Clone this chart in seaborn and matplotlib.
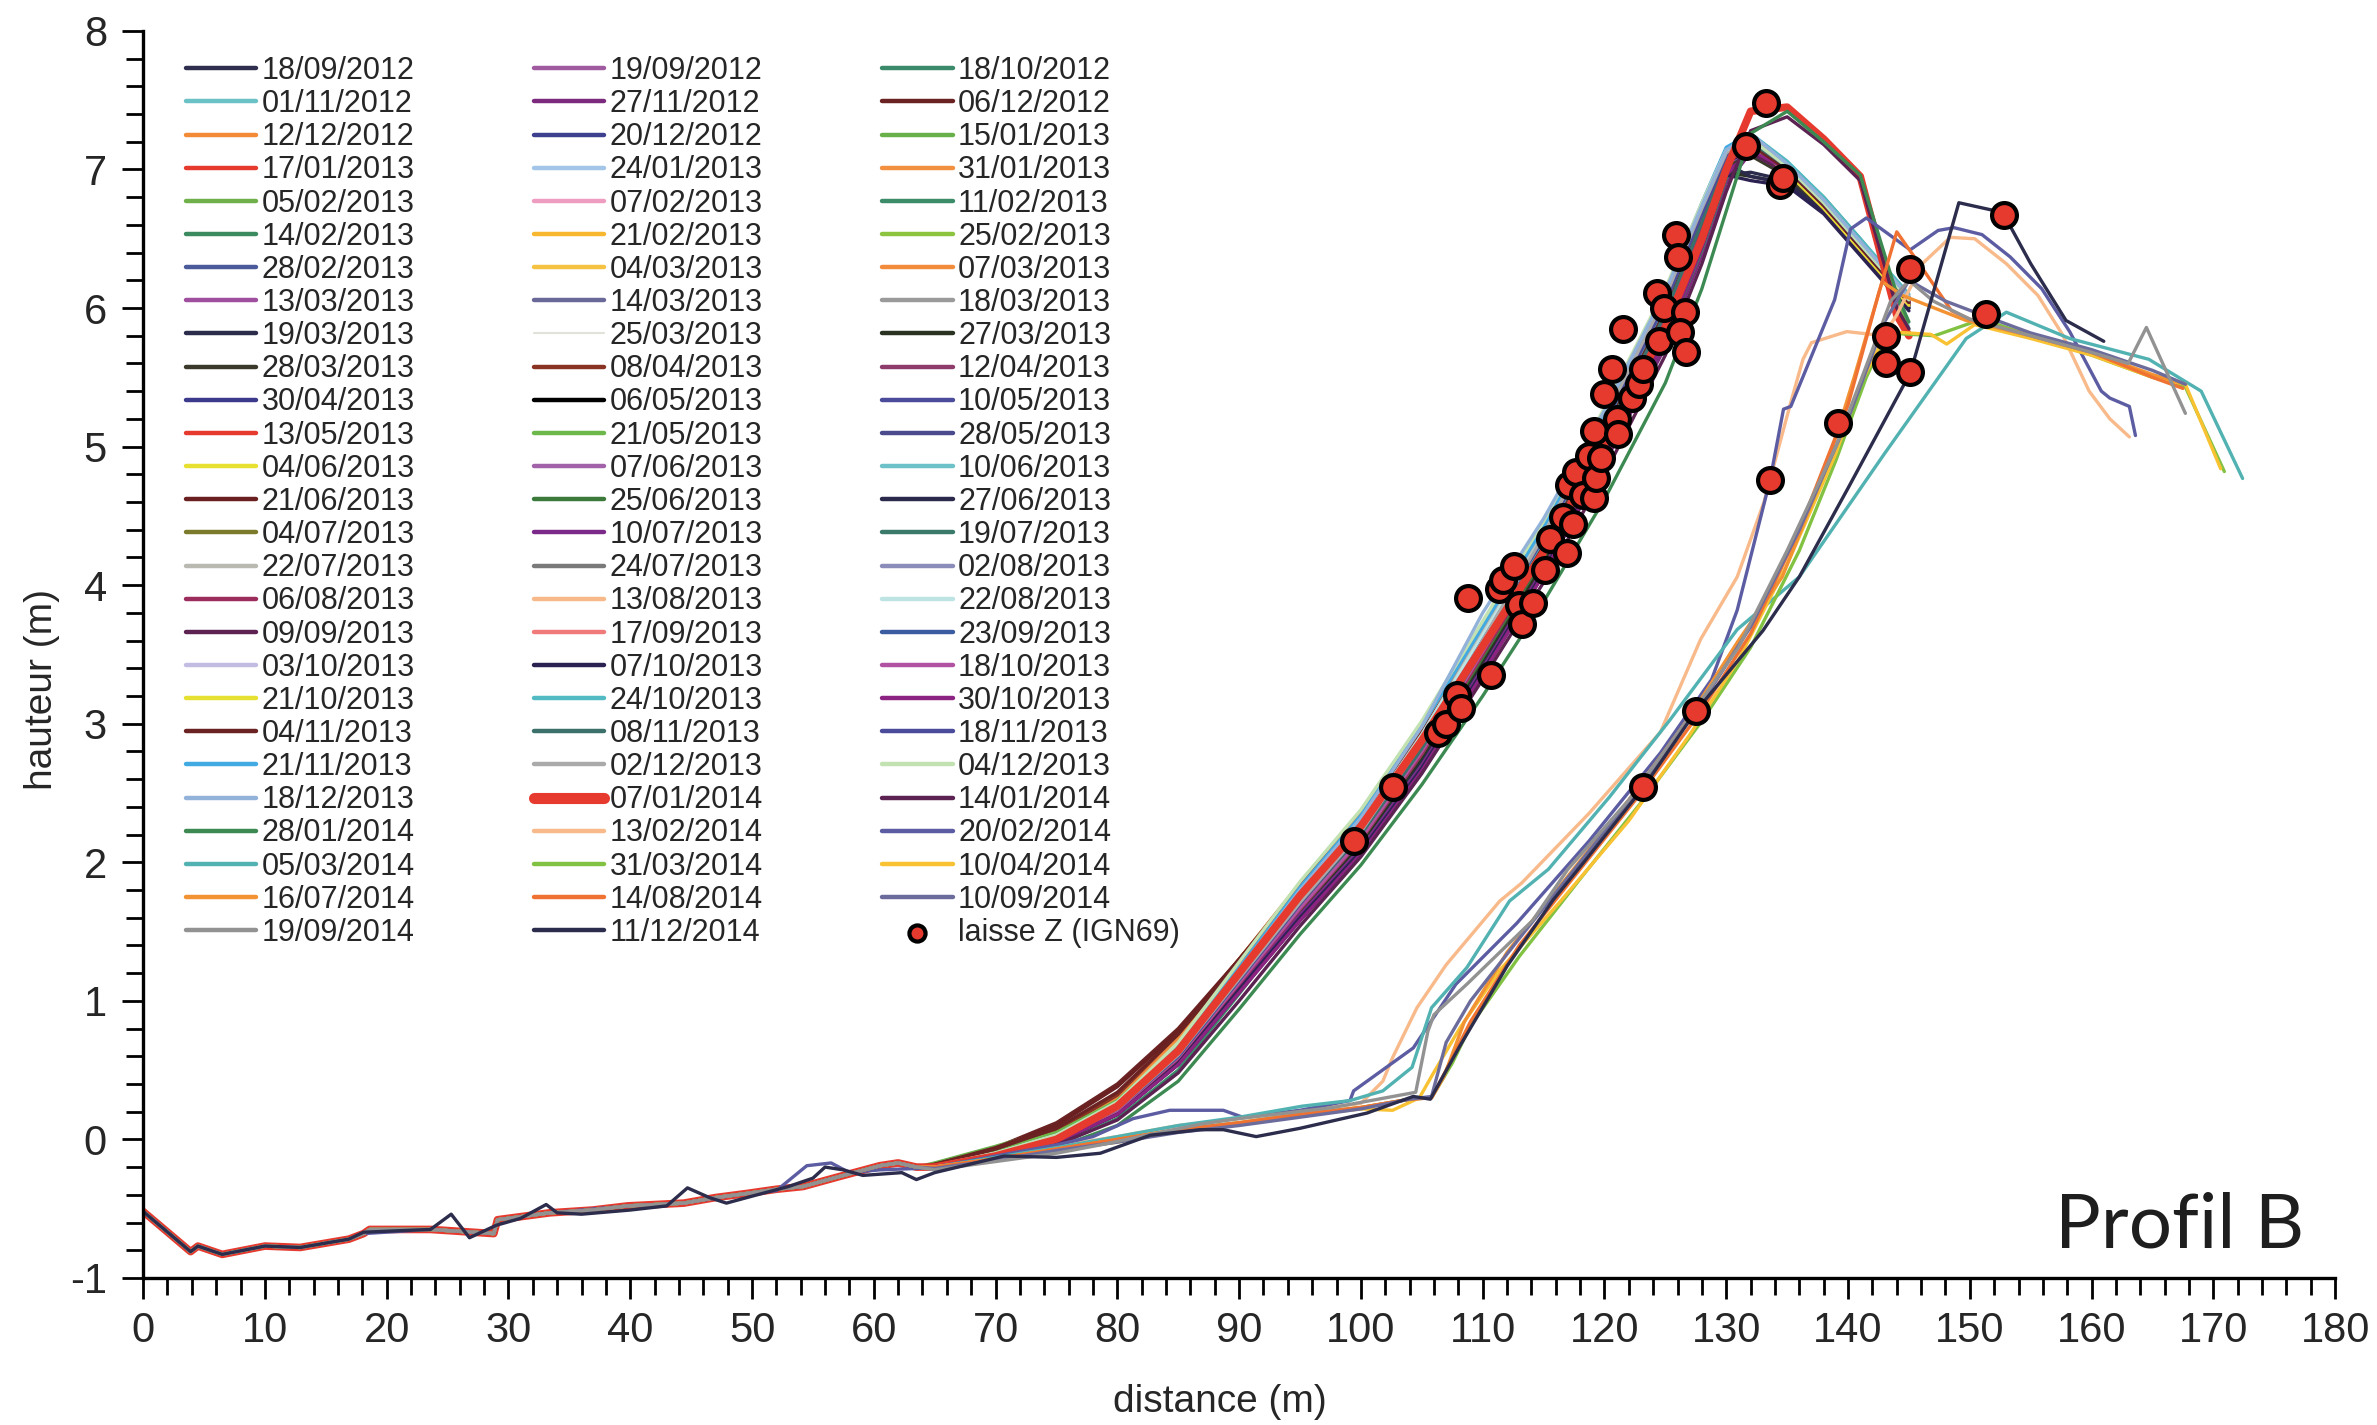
import matplotlib
matplotlib.use("Agg")
import matplotlib.pyplot as plt
import seaborn as sns
from matplotlib.lines import Line2D
from matplotlib.ticker import MultipleLocator

# dates des levés, ordre chronologique
DATES = [
    "18/09/2012", "19/09/2012", "18/10/2012", "01/11/2012", "27/11/2012", "06/12/2012",
    "12/12/2012", "20/12/2012", "15/01/2013", "17/01/2013", "24/01/2013", "31/01/2013",
    "05/02/2013", "07/02/2013", "11/02/2013", "14/02/2013", "21/02/2013", "25/02/2013",
    "28/02/2013", "04/03/2013", "07/03/2013", "13/03/2013", "14/03/2013", "18/03/2013",
    "19/03/2013", "25/03/2013", "27/03/2013", "28/03/2013", "08/04/2013", "12/04/2013",
    "30/04/2013", "06/05/2013", "10/05/2013", "13/05/2013", "21/05/2013", "28/05/2013",
    "04/06/2013", "07/06/2013", "10/06/2013", "21/06/2013", "25/06/2013", "27/06/2013",
    "04/07/2013", "10/07/2013", "19/07/2013", "22/07/2013", "24/07/2013", "02/08/2013",
    "06/08/2013", "13/08/2013", "22/08/2013", "09/09/2013", "17/09/2013", "23/09/2013",
    "03/10/2013", "07/10/2013", "18/10/2013", "21/10/2013", "24/10/2013", "30/10/2013",
    "04/11/2013", "08/11/2013", "18/11/2013", "21/11/2013", "02/12/2013", "04/12/2013",
    "18/12/2013", "07/01/2014", "14/01/2014", "28/01/2014", "13/02/2014", "20/02/2014",
    "05/03/2014", "31/03/2014", "10/04/2014", "16/07/2014", "14/08/2014", "10/09/2014",
    "19/09/2014", "11/12/2014",
]

COLORS = [
    "#2f2e4f", "#a05aa0", "#3b8a6c", "#6bc2c6", "#7b2a7e", "#6a2222",
    "#f28a36", "#3d3f8f", "#68b04a", "#e63a2e", "#a3c6e8", "#f29040",
    "#70b04a", "#ee9cc0", "#3c8c6a", "#3b8a60", "#f8b72e", "#8cc43f",
    "#4b5a9a", "#f5c242", "#f28c3c", "#a04f9f", "#6a6898", "#9a9a9a",
    "#2b2b4b", "#e2e2d8", "#2a3222", "#3b3a2a", "#8b3323", "#8d3c6c",
    "#3c3a8c", "#000000", "#4b4b9b", "#e63a2e", "#6cb84a", "#4a4a8c",
    "#e8e030", "#a262aa", "#6cc2c8", "#6a2020", "#3b7a3b", "#2b2a4c",
    "#7b7b2b", "#7b2a8a", "#3b7a6b", "#b9b9b2", "#7a7a7a", "#8c8cba",
    "#9b2c5c", "#f8b98a", "#bde3e3", "#5b2252", "#f07a7a", "#3c5ca2",
    "#c3bce2", "#2c2252", "#b252a2", "#e6e032", "#52bac2", "#8c2282",
    "#6b2222", "#3c706a", "#4b4b9b", "#42aae2", "#aaaaaa", "#c2e2b2",
    "#92b2da", "#e63a2e", "#5b2252", "#3c8a52", "#f8ba8a", "#5c5ca2",
    "#52b2b2", "#82c242", "#f8c232", "#f29232", "#f07232", "#6c6c9c",
    "#929292", "#2c2c4c",
]

# bas de plage, commun à presque tous les levés
BEACH_X = [0, 3.9, 4.5, 6.5, 10, 12.9, 16.9, 18.1, 18.6, 23.6, 28.8, 29.1, 33.4, 36.9,
           39.8, 44.4, 47, 49.6, 52, 54.2, 57.1, 60.5, 62, 63.5]
BEACH_Y = [-0.52, -0.81, -0.77, -0.83, -0.77, -0.78, -0.72, -0.68, -0.65, -0.65, -0.68, -0.58,
           -0.53, -0.51, -0.48, -0.46, -0.42, -0.39, -0.36, -0.34, -0.27, -0.19, -0.17, -0.20]

NAVY_BEACH_X = [0, 3.9, 4.5, 6.5, 10, 12.9, 16.9, 18.1, 23.6, 25.3, 26.8, 29, 31, 33.1, 34,
                36, 40, 43, 44.7, 46.5, 47.9, 50, 53, 55, 56, 57.5, 59.1, 62.3, 63.5]
NAVY_BEACH_Y = [-0.52, -0.81, -0.77, -0.83, -0.77, -0.78, -0.72, -0.67, -0.65, -0.54, -0.71,
                -0.62, -0.57, -0.47, -0.53, -0.54, -0.51, -0.48, -0.35, -0.42, -0.46, -0.41,
                -0.34, -0.28, -0.20, -0.22, -0.26, -0.24, -0.29]

BLUE_BEACH_X = [0, 3.9, 4.5, 6.5, 10, 12.9, 16.9, 18.1, 23.6, 28.8, 29.1, 33.4, 39.8, 44.4,
                49.6, 52, 54.5, 56.5, 58, 60.5, 63.5]
BLUE_BEACH_Y = [-0.52, -0.81, -0.77, -0.83, -0.77, -0.78, -0.72, -0.68, -0.65, -0.68, -0.58,
                -0.53, -0.48, -0.46, -0.39, -0.37, -0.19, -0.17, -0.24, -0.22, -0.21]

# haut de plage et dune, levés 09/2012 -> 01/2014
DUNE_X_A = [65, 70, 75, 80, 85, 90, 95, 100, 105, 110, 115, 120, 125, 128, 130, 132, 135, 138, 141, 144, 145]
DUNE_Y_A = [
    [-0.20, -0.13, -0.02, 0.18, 0.55, 1.10, 1.65, 2.15, 2.75, 3.45, 4.15, 4.95, 5.80, 6.45, 6.95, 7.15, 7.00, 6.75, 6.45, 6.15, 6.05],
    [-0.20, -0.12, -0.01, 0.20, 0.58, 1.14, 1.70, 2.20, 2.80, 3.50, 4.20, 5.00, 5.85, 6.50, 7.00, 7.18, 7.02, 6.76, 6.46, 6.16, 6.06],
    [-0.21, -0.14, -0.04, 0.15, 0.50, 1.05, 1.62, 2.12, 2.72, 3.40, 4.10, 4.90, 5.75, 6.40, 6.92, 7.20, 7.05, 6.80, 6.50, 6.18, 6.08],
    [-0.19, -0.10, 0.02, 0.25, 0.65, 1.22, 1.78, 2.28, 2.90, 3.62, 4.32, 5.12, 6.00, 6.65, 7.10, 7.25, 7.05, 6.78, 6.48, 6.17, 5.85],
    [-0.20, -0.12, 0.00, 0.20, 0.55, 1.08, 1.62, 2.10, 2.68, 3.38, 4.08, 4.88, 5.72, 6.38, 6.90, 7.12, 6.98, 6.72, 6.42, 6.12, 6.02],
    [-0.18, -0.06, 0.12, 0.40, 0.80, 1.30, 1.82, 2.30, 2.92, 3.62, 4.32, 5.12, 5.98, 6.62, 7.08, 7.22, 7.02, 6.76, 6.46, 6.16, 6.06],
    [-0.19, -0.09, 0.06, 0.32, 0.75, 1.30, 1.85, 2.35, 2.98, 3.70, 4.40, 5.22, 6.10, 6.75, 7.15, 7.22, 7.00, 6.74, 6.44, 6.14, 6.04],
    [-0.20, -0.12, 0.00, 0.22, 0.60, 1.15, 1.70, 2.20, 2.82, 3.52, 4.22, 5.02, 5.88, 6.52, 7.00, 7.15, 6.95, 6.70, 6.40, 6.10, 5.80],
    [-0.17, -0.05, 0.08, 0.30, 0.68, 1.22, 1.76, 2.26, 2.88, 3.58, 4.28, 5.08, 5.94, 6.58, 7.05, 7.18, 6.98, 6.72, 6.42, 6.12, 6.02],
    [-0.20, -0.11, 0.02, 0.25, 0.64, 1.20, 1.75, 2.25, 2.86, 3.56, 4.26, 5.06, 5.92, 6.56, 7.04, 7.20, 7.00, 6.74, 6.44, 6.14, 6.04],
    [-0.19, -0.10, 0.03, 0.27, 0.68, 1.25, 1.80, 2.32, 2.95, 3.68, 4.40, 5.22, 6.10, 6.72, 7.12, 7.24, 7.04, 6.78, 6.48, 6.18, 6.08],
    [-0.19, -0.09, 0.05, 0.30, 0.72, 1.28, 1.84, 2.34, 2.96, 3.68, 4.38, 5.20, 6.08, 6.72, 7.14, 7.22, 7.00, 6.74, 6.44, 6.14, 6.04],
    [-0.18, -0.08, 0.05, 0.28, 0.66, 1.20, 1.74, 2.24, 2.86, 3.56, 4.26, 5.06, 5.92, 6.56, 7.04, 7.18, 6.98, 6.72, 6.42, 6.12, 5.82],
    [-0.20, -0.11, 0.02, 0.26, 0.66, 1.22, 1.76, 2.26, 2.88, 3.58, 4.28, 5.08, 5.95, 6.60, 7.06, 7.20, 7.00, 6.74, 6.44, 6.14, 6.04],
    [-0.20, -0.12, 0.00, 0.22, 0.60, 1.14, 1.68, 2.18, 2.78, 3.48, 4.18, 4.98, 5.84, 6.48, 6.98, 7.16, 7.00, 6.75, 6.45, 6.15, 6.05],
    [-0.20, -0.13, -0.02, 0.18, 0.54, 1.08, 1.62, 2.12, 2.72, 3.42, 4.12, 4.92, 5.78, 6.42, 6.94, 7.14, 7.00, 6.76, 6.46, 6.16, 6.06],
    [-0.19, -0.10, 0.03, 0.27, 0.68, 1.24, 1.80, 2.30, 2.92, 3.64, 4.34, 5.16, 6.02, 6.66, 7.10, 7.22, 7.02, 6.76, 6.46, 6.16, 6.06],
    [-0.18, -0.08, 0.06, 0.30, 0.70, 1.26, 1.80, 2.30, 2.92, 3.62, 4.32, 5.12, 5.98, 6.62, 7.08, 7.20, 7.00, 6.74, 6.44, 6.14, 6.04],
    [-0.20, -0.12, 0.00, 0.22, 0.60, 1.16, 1.70, 2.20, 2.80, 3.50, 4.20, 5.00, 5.86, 6.50, 7.00, 7.16, 6.96, 6.70, 6.40, 6.10, 6.00],
    [-0.19, -0.10, 0.04, 0.28, 0.70, 1.26, 1.82, 2.32, 2.94, 3.66, 4.36, 5.18, 6.04, 6.68, 7.10, 7.20, 7.00, 6.74, 6.44, 6.14, 6.04],
    [-0.19, -0.09, 0.05, 0.30, 0.72, 1.28, 1.84, 2.34, 2.96, 3.68, 4.40, 5.22, 6.08, 6.70, 7.12, 7.22, 7.02, 6.76, 6.46, 6.16, 6.06],
    [-0.20, -0.12, -0.01, 0.20, 0.58, 1.12, 1.66, 2.16, 2.76, 3.46, 4.18, 5.00, 5.88, 6.54, 7.02, 7.18, 7.00, 6.74, 6.44, 6.14, 6.04],
    [-0.20, -0.11, 0.01, 0.24, 0.62, 1.18, 1.72, 2.22, 2.84, 3.56, 4.28, 5.10, 5.98, 6.62, 7.06, 7.20, 7.02, 6.76, 6.46, 6.16, 6.06],
    [-0.20, -0.12, 0.00, 0.22, 0.60, 1.16, 1.70, 2.20, 2.82, 3.52, 4.24, 5.06, 5.94, 6.60, 7.06, 7.22, 7.04, 6.78, 6.48, 6.18, 6.08],
    [-0.21, -0.13, -0.02, 0.19, 0.56, 1.10, 1.64, 2.14, 2.74, 3.44, 4.14, 4.94, 5.80, 6.46, 6.96, 6.98, 6.92, 6.72, 6.42, 6.12, 6.02],
    [-0.20, -0.11, 0.02, 0.25, 0.64, 1.20, 1.75, 2.25, 2.86, 3.58, 4.30, 5.12, 6.00, 6.64, 7.08, 7.20, 7.00, 6.74, 6.44, 6.14, 6.04],
    [-0.21, -0.13, -0.02, 0.19, 0.56, 1.10, 1.64, 2.14, 2.76, 3.46, 4.16, 4.96, 5.82, 6.48, 6.98, 6.95, 6.90, 6.70, 6.40, 6.10, 6.00],
    [-0.20, -0.12, 0.00, 0.21, 0.58, 1.12, 1.66, 2.16, 2.78, 3.48, 4.20, 5.02, 5.90, 6.55, 7.02, 7.10, 6.95, 6.72, 6.42, 6.12, 6.02],
    [-0.19, -0.09, 0.06, 0.32, 0.76, 1.30, 1.84, 2.32, 2.94, 3.64, 4.36, 5.18, 6.06, 6.70, 7.12, 7.22, 7.02, 6.76, 6.46, 6.16, 6.06],
    [-0.20, -0.12, 0.00, 0.22, 0.60, 1.14, 1.68, 2.18, 2.80, 3.50, 4.22, 5.04, 5.92, 6.58, 7.04, 7.18, 7.00, 6.74, 6.44, 6.14, 6.04],
    [-0.20, -0.12, 0.00, 0.22, 0.60, 1.15, 1.69, 2.19, 2.80, 3.50, 4.22, 5.04, 5.92, 6.58, 7.05, 7.20, 7.02, 6.76, 6.46, 6.16, 6.06],
    [-0.20, -0.12, 0.00, 0.22, 0.60, 1.15, 1.70, 2.20, 2.82, 3.52, 4.24, 5.06, 5.94, 6.60, 7.05, 7.15, 6.98, 6.72, 6.42, 6.12, 6.02],
    [-0.20, -0.11, 0.01, 0.23, 0.62, 1.17, 1.72, 2.22, 2.84, 3.56, 4.28, 5.10, 5.98, 6.62, 7.06, 7.18, 7.00, 6.74, 6.44, 6.14, 6.04],
    [-0.19, -0.10, 0.03, 0.26, 0.66, 1.22, 1.78, 2.28, 2.90, 3.62, 4.34, 5.16, 6.04, 6.68, 7.10, 7.22, 7.02, 6.76, 6.46, 6.16, 6.06],
    [-0.18, -0.08, 0.05, 0.28, 0.68, 1.24, 1.78, 2.28, 2.90, 3.62, 4.34, 5.16, 6.04, 6.68, 7.10, 7.20, 7.00, 6.74, 6.44, 6.14, 6.04],
    [-0.20, -0.12, 0.00, 0.22, 0.60, 1.15, 1.70, 2.20, 2.82, 3.54, 4.26, 5.08, 5.96, 6.62, 7.06, 7.18, 7.00, 6.74, 6.44, 6.14, 6.04],
    [-0.19, -0.10, 0.02, 0.25, 0.64, 1.20, 1.75, 2.25, 2.88, 3.60, 4.32, 5.14, 6.02, 6.66, 7.08, 7.18, 6.98, 6.72, 6.42, 6.12, 6.02],
    [-0.19, -0.10, 0.03, 0.26, 0.66, 1.22, 1.77, 2.27, 2.90, 3.62, 4.34, 5.16, 6.04, 6.68, 7.10, 7.20, 7.00, 6.74, 6.44, 6.14, 6.04],
    [-0.19, -0.10, 0.03, 0.27, 0.68, 1.24, 1.80, 2.30, 2.92, 3.64, 4.36, 5.18, 6.06, 6.70, 7.12, 7.24, 7.04, 6.78, 6.48, 6.18, 6.08],
    [-0.18, -0.06, 0.10, 0.38, 0.78, 1.30, 1.82, 2.30, 2.92, 3.62, 4.34, 5.16, 6.04, 6.68, 7.10, 7.20, 7.00, 6.74, 6.44, 6.14, 6.04],
    [-0.20, -0.12, 0.00, 0.21, 0.58, 1.12, 1.66, 2.16, 2.78, 3.48, 4.20, 5.02, 5.90, 6.56, 7.04, 7.20, 7.02, 6.76, 6.46, 6.16, 6.06],
    [-0.20, -0.12, 0.00, 0.22, 0.60, 1.15, 1.70, 2.20, 2.82, 3.54, 4.26, 5.08, 5.96, 6.62, 7.04, 6.95, 6.90, 6.70, 6.40, 6.10, 6.00],
    [-0.20, -0.11, 0.01, 0.24, 0.63, 1.18, 1.73, 2.23, 2.86, 3.58, 4.30, 5.12, 6.00, 6.64, 7.08, 7.20, 7.00, 6.74, 6.44, 6.14, 6.04],
    [-0.20, -0.12, -0.01, 0.20, 0.57, 1.10, 1.62, 2.10, 2.70, 3.40, 4.12, 4.94, 5.82, 6.48, 6.98, 7.12, 6.98, 6.72, 6.42, 6.12, 6.02],
    [-0.20, -0.12, 0.00, 0.22, 0.60, 1.15, 1.70, 2.20, 2.82, 3.54, 4.26, 5.08, 5.96, 6.60, 7.05, 7.18, 7.00, 6.74, 6.44, 6.14, 6.04],
    [-0.20, -0.11, 0.02, 0.25, 0.65, 1.20, 1.76, 2.28, 2.92, 3.66, 4.40, 5.20, 6.06, 6.70, 7.12, 7.24, 7.04, 6.78, 6.48, 6.18, 6.08],
    [-0.20, -0.12, 0.00, 0.22, 0.61, 1.16, 1.72, 2.23, 2.86, 3.60, 4.34, 5.16, 6.04, 6.68, 7.10, 7.22, 7.02, 6.76, 6.46, 6.16, 6.06],
    [-0.20, -0.12, 0.00, 0.22, 0.60, 1.15, 1.70, 2.20, 2.84, 3.56, 4.28, 5.10, 5.98, 6.62, 7.06, 7.18, 7.00, 6.74, 6.44, 6.14, 6.04],
    [-0.20, -0.12, -0.01, 0.20, 0.58, 1.12, 1.66, 2.16, 2.78, 3.50, 4.22, 5.04, 5.92, 6.58, 7.04, 7.18, 7.00, 6.74, 6.44, 6.14, 6.04],
    [-0.19, -0.10, 0.02, 0.25, 0.64, 1.20, 1.75, 2.26, 2.90, 3.62, 4.34, 5.16, 6.04, 6.68, 7.10, 7.22, 7.02, 6.76, 6.46, 6.16, 6.06],
    [-0.19, -0.10, 0.03, 0.26, 0.66, 1.22, 1.78, 2.28, 2.92, 3.64, 4.36, 5.18, 6.06, 6.70, 7.12, 7.24, 7.04, 6.78, 6.48, 6.18, 6.08],
    [-0.20, -0.13, -0.02, 0.18, 0.54, 1.06, 1.58, 2.06, 2.66, 3.36, 4.08, 4.90, 5.78, 6.44, 6.96, 7.12, 6.98, 6.72, 6.42, 6.12, 6.02],
    [-0.20, -0.11, 0.01, 0.24, 0.63, 1.18, 1.73, 2.23, 2.86, 3.58, 4.30, 5.12, 6.00, 6.64, 7.08, 7.20, 7.00, 6.74, 6.44, 6.14, 6.04],
    [-0.20, -0.12, 0.00, 0.22, 0.60, 1.15, 1.70, 2.20, 2.82, 3.54, 4.26, 5.08, 5.96, 6.62, 7.06, 7.20, 7.02, 6.76, 6.46, 6.16, 6.06],
    [-0.20, -0.11, 0.01, 0.24, 0.63, 1.18, 1.73, 2.24, 2.88, 3.60, 4.34, 5.16, 6.04, 6.68, 7.10, 7.22, 7.02, 6.76, 6.46, 6.16, 6.06],
    [-0.20, -0.13, -0.02, 0.18, 0.55, 1.08, 1.60, 2.08, 2.68, 3.38, 4.10, 4.92, 5.80, 6.46, 6.96, 6.92, 6.88, 6.68, 6.38, 6.08, 5.98],
    [-0.20, -0.12, 0.00, 0.21, 0.59, 1.13, 1.67, 2.17, 2.80, 3.52, 4.26, 5.08, 5.96, 6.62, 7.06, 7.20, 7.02, 6.76, 6.46, 6.16, 6.06],
    [-0.20, -0.11, 0.01, 0.23, 0.62, 1.17, 1.72, 2.22, 2.85, 3.58, 4.30, 5.12, 6.00, 6.64, 7.08, 7.18, 6.98, 6.72, 6.42, 6.12, 6.02],
    [-0.20, -0.11, 0.02, 0.25, 0.64, 1.19, 1.74, 2.25, 2.88, 3.60, 4.32, 5.14, 6.02, 6.66, 7.10, 7.26, 7.06, 6.80, 6.50, 6.20, 6.10],
    [-0.20, -0.13, -0.02, 0.18, 0.54, 1.06, 1.58, 2.06, 2.66, 3.36, 4.08, 4.90, 5.78, 6.44, 6.96, 7.14, 7.00, 6.74, 6.44, 6.14, 6.04],
    [-0.18, -0.07, 0.08, 0.34, 0.76, 1.28, 1.78, 2.26, 2.86, 3.56, 4.28, 5.10, 5.98, 6.62, 7.06, 7.18, 7.00, 6.74, 6.44, 6.14, 6.04],
    [-0.20, -0.12, 0.00, 0.22, 0.60, 1.15, 1.70, 2.20, 2.82, 3.54, 4.26, 5.08, 5.96, 6.62, 7.06, 7.20, 7.02, 6.76, 6.46, 6.16, 6.06],
    [-0.20, -0.12, 0.00, 0.22, 0.60, 1.15, 1.70, 2.22, 2.86, 3.60, 4.34, 5.16, 6.04, 6.68, 7.10, 7.22, 7.02, 6.76, 6.46, 6.16, 6.06],
    [-0.20, -0.11, 0.02, 0.25, 0.66, 1.24, 1.82, 2.34, 2.98, 3.70, 4.42, 5.24, 6.12, 6.76, 7.16, 7.26, 7.04, 6.78, 6.48, 6.18, 6.08],
    [-0.20, -0.12, 0.00, 0.22, 0.61, 1.16, 1.71, 2.22, 2.86, 3.60, 4.36, 5.20, 6.08, 6.72, 7.12, 7.24, 7.04, 6.78, 6.48, 6.18, 6.08],
    [-0.19, -0.10, 0.03, 0.27, 0.70, 1.28, 1.86, 2.38, 3.02, 3.74, 4.46, 5.28, 6.14, 6.76, 7.14, 7.22, 7.02, 6.76, 6.46, 6.16, 6.06],
    [-0.20, -0.11, 0.01, 0.24, 0.64, 1.22, 1.80, 2.32, 2.98, 3.80, 4.48, 5.26, 6.12, 6.74, 7.14, 7.26, 7.04, 6.78, 6.48, 6.18, 6.08],
    [-0.20, -0.12, 0.00, 0.24, 0.64, 1.20, 1.76, 2.26, 2.88, 3.56, 4.24, 5.02, 5.86, 6.50, 7.00, 7.42, 7.45, 7.22, 6.95, 5.95, 5.80],
    [-0.21, -0.14, -0.04, 0.14, 0.48, 1.00, 1.54, 2.04, 2.64, 3.32, 4.02, 4.80, 5.66, 6.32, 6.84, 7.28, 7.38, 7.18, 6.92, 6.00, 5.85],
    [-0.21, -0.15, -0.06, 0.10, 0.42, 0.94, 1.48, 1.98, 2.56, 3.20, 3.88, 4.62, 5.46, 6.14, 6.70, 7.26, 7.42, 7.20, 6.96, 6.10, 5.90],
]

# levés 2014 après les tempêtes (haut de plage reculé)
P_13_02_2014_X = [65, 70, 75, 80, 85, 90, 95, 100, 101.8, 102.6, 104.6, 107, 111.4, 113.2, 118.7, 124.6, 127.9, 130.9,
                  133.1, 135.3, 136.3, 137, 139.9, 142.9, 144, 146.1, 148.4, 150.4, 153, 155.6, 157.6, 159.8, 161.5, 163.1]
P_13_02_2014_Y = [-0.20, -0.13, -0.05, 0.02, 0.10, 0.15, 0.20, 0.26, 0.42, 0.59, 0.95, 1.26, 1.72, 1.85, 2.35, 2.94, 3.61, 4.06,
                  4.60, 5.32, 5.63, 5.75, 5.83, 5.80, 5.95, 6.32, 6.51, 6.50, 6.32, 6.09, 5.81, 5.40, 5.20, 5.07]
P_20_02_2014_X = [65, 70, 75, 78, 81.3, 84.3, 88.7, 90.3, 95, 99.1, 99.4, 104.3, 107.8, 112.8, 118.7, 124.6, 128.8, 130.9,
                  133.6, 134.7, 135.3, 138.9, 140.2, 141.5, 145.1, 147.4, 148.7, 151.0, 153.3, 155.9, 158.2, 160.8, 161.5,
                  163.1, 163.6]
P_20_02_2014_Y = [-0.20, -0.12, -0.04, 0.02, 0.15, 0.21, 0.21, 0.16, 0.21, 0.28, 0.35, 0.66, 1.12, 1.56, 2.15, 2.79, 3.32, 3.82,
                  4.76, 5.27, 5.29, 6.06, 6.57, 6.65, 6.42, 6.56, 6.58, 6.53, 6.37, 6.14, 5.83, 5.40, 5.35,
                  5.29, 5.08]
P_05_03_2014_X = [65, 70, 75, 80, 85, 90, 95.2, 99.1, 101.8, 104.2, 105.8, 108.7, 112.2, 115.4, 120.4, 125.4, 130.9, 136.0,
                  143.0, 149.7, 153.0, 158.2, 164.7, 169.0, 172.4]
P_05_03_2014_Y = [-0.20, -0.13, -0.06, 0.02, 0.10, 0.16, 0.24, 0.28, 0.35, 0.52, 0.95, 1.24, 1.72, 1.95, 2.47, 3.03, 3.68, 4.06,
                  4.95, 5.78, 5.97, 5.78, 5.63, 5.40, 4.77]
P_31_03_2014_X = [65, 70, 75, 80, 85, 90, 95, 100, 104, 105.8, 107.5, 109, 113, 118, 123, 128, 132, 136, 139, 141.5,
                  143.2, 147.1, 151.0, 155, 160, 165, 167.7, 170.9]
P_31_03_2014_Y = [-0.20, -0.14, -0.07, 0.00, 0.07, 0.12, 0.18, 0.23, 0.29, 0.30, 0.55, 0.82, 1.32, 1.88, 2.43, 3.02, 3.55,
                  4.25, 4.90, 5.50, 5.82, 5.80, 5.92, 5.80, 5.66, 5.50, 5.43, 4.82]
P_10_04_2014_X = [65, 70, 75, 80, 85, 90, 95, 100, 102.6, 104.8, 105.9, 108.1, 111.4, 116.4, 122, 127, 131, 135, 139, 141,
                  143.2, 146.8, 148.1, 150.4, 155, 160, 165, 167.7, 170.6]
P_10_04_2014_Y = [-0.20, -0.14, -0.08, -0.02, 0.06, 0.11, 0.17, 0.22, 0.21, 0.30, 0.47, 0.80, 1.22, 1.72, 2.30, 2.92, 3.46,
                  4.15, 4.95, 5.45, 5.83, 5.81, 5.74, 5.88, 5.78, 5.66, 5.50, 5.45, 4.84]
P_16_07_2014_X = [65, 70, 75, 80, 85, 90, 95, 100, 104, 105.8, 106.8, 108.5, 112, 117, 122, 127, 131, 134.6, 138.3,
                  140.5, 142.8, 144.5, 146.8, 149.7, 155, 160, 165, 167.7]
P_16_07_2014_Y = [-0.20, -0.14, -0.07, 0.00, 0.07, 0.12, 0.18, 0.23, 0.29, 0.30, 0.45, 0.85, 1.35, 1.90, 2.45, 3.05, 3.60,
                  4.06, 4.87, 5.50, 6.19, 6.09, 6.01, 5.91, 5.80, 5.68, 5.52, 5.45]
P_14_08_2014_X = [65, 70, 75, 80, 85, 90, 95, 100, 104, 105.8, 107, 109, 113, 118, 123, 128, 132, 136, 140, 142.5,
                  144, 146, 148.5, 150, 155, 160, 165, 167.5]
P_14_08_2014_Y = [-0.20, -0.14, -0.07, 0.00, 0.07, 0.12, 0.18, 0.23, 0.29, 0.30, 0.50, 0.85, 1.40, 1.95, 2.50, 3.10, 3.65,
                  4.40, 5.30, 6.10, 6.55, 6.30, 5.98, 5.92, 5.80, 5.68, 5.50, 5.42]
P_10_09_2014_X = [65, 70, 75, 80, 85, 90, 95, 100, 104, 105.8, 107, 109, 113, 118, 123, 128, 132, 136, 140, 143,
                  145, 148, 151, 155, 160, 165, 167.7]
P_10_09_2014_Y = [-0.21, -0.15, -0.08, -0.02, 0.05, 0.10, 0.16, 0.22, 0.29, 0.31, 0.70, 1.00, 1.45, 2.00, 2.55, 3.15, 3.70,
                  4.40, 5.20, 5.90, 6.20, 6.05, 5.95, 5.82, 5.70, 5.55, 5.45]
P_19_09_2014_X = [65, 70, 75, 78.6, 86.8, 90, 97.7, 104.5, 105.5, 106, 108.7, 114.1, 117, 122, 127, 131, 135, 139, 142,
                  143.5, 145, 147, 150, 155, 160, 163, 164.5, 167.7]
P_19_09_2014_Y = [-0.22, -0.16, -0.10, -0.04, 0.11, 0.15, 0.23, 0.34, 0.78, 0.90, 1.12, 1.58, 1.95, 2.45, 3.05, 3.55,
                  4.25, 5.00, 5.70, 6.05, 6.20, 6.05, 5.92, 5.80, 5.68, 5.60, 5.86, 5.24]
P_11_12_2014_X = [65, 70.7, 75, 78.6, 82.7, 86.8, 88.7, 91.4, 95, 100.5, 104.3, 105.7, 108.1, 112, 115.8, 118.3, 123.2,
                  127.5, 133, 136, 140, 145.1, 145.6, 149.1, 152.7, 155, 157.9, 161]
P_11_12_2014_Y = [-0.24, -0.12, -0.13, -0.10, 0.03, 0.07, 0.07, 0.02, 0.08, 0.19, 0.31, 0.29, 0.67, 1.25, 1.73, 2.00, 2.54,
                  3.09, 3.67, 4.06, 4.70, 5.53, 5.68, 6.76, 6.69, 6.32, 5.91, 5.76]

# laisses de haute mer (Z IGN69)
LAISSE_X = [99.4, 102.6, 106.3, 107.0, 107.9, 108.2, 108.8, 110.7, 111.3, 111.7, 112.6, 113.0, 113.2, 114.1,
            115.1, 115.5, 116.6, 116.9, 117.4, 117.1, 117.7, 118.2, 119.1, 118.7, 119.3, 119.7, 119.1, 120.0,
            121.0, 121.1, 120.6, 121.5, 122.3, 122.8, 123.2, 124.3, 124.9, 124.5, 125.9, 126.0, 126.6, 126.2,
            126.7, 131.6, 133.3, 134.4, 134.7, 123.2, 127.5, 133.6, 139.2, 143.1, 143.1, 145.1, 145.1, 151.3, 152.8]
LAISSE_Y = [2.15, 2.54, 2.93, 3.00, 3.21, 3.11, 3.91, 3.35, 3.97, 4.04, 4.14, 3.86, 3.72, 3.87,
            4.11, 4.33, 4.49, 4.23, 4.44, 4.72, 4.82, 4.65, 4.63, 4.93, 4.77, 4.92, 5.11, 5.38,
            5.20, 5.09, 5.56, 5.85, 5.35, 5.45, 5.56, 6.11, 6.00, 5.76, 6.53, 6.37, 5.97, 5.83,
            5.68, 7.17, 7.48, 6.89, 6.94, 2.54, 3.09, 4.76, 5.17, 5.60, 5.80, 5.54, 6.28, 5.96, 6.67]

PROFILES_B = [
    (BEACH_X, BEACH_Y, P_13_02_2014_X, P_13_02_2014_Y),
    (BLUE_BEACH_X, BLUE_BEACH_Y, P_20_02_2014_X, P_20_02_2014_Y),
    (BEACH_X, BEACH_Y, P_05_03_2014_X, P_05_03_2014_Y),
    (BEACH_X, BEACH_Y, P_31_03_2014_X, P_31_03_2014_Y),
    (BEACH_X, BEACH_Y, P_10_04_2014_X, P_10_04_2014_Y),
    (BEACH_X, BEACH_Y, P_16_07_2014_X, P_16_07_2014_Y),
    (BEACH_X, BEACH_Y, P_14_08_2014_X, P_14_08_2014_Y),
    (BEACH_X, BEACH_Y, P_10_09_2014_X, P_10_09_2014_Y),
    (BEACH_X, BEACH_Y, P_19_09_2014_X, P_19_09_2014_Y),
    (NAVY_BEACH_X, NAVY_BEACH_Y, P_11_12_2014_X, P_11_12_2014_Y),
]

sns.set_style("ticks")
plt.rcParams["font.family"] = ["Liberation Sans", "DejaVu Sans"]
plt.rcParams["axes.unicode_minus"] = False

fig = plt.figure(figsize=(23.77, 14.25), dpi=100)
ax = fig.add_axes([0.0602, 0.1032, 0.9222, 0.8751])

handles = []
for i, date in enumerate(DATES):
    if i < len(DUNE_Y_A):
        xs = BEACH_X + DUNE_X_A
        ys = BEACH_Y + DUNE_Y_A[i]
    else:
        bx, by, px, py = PROFILES_B[i - len(DUNE_Y_A)]
        xs = bx + px
        ys = by + py
    if date == "07/01/2014":
        lw = 5.5
    elif date == "25/03/2013":
        lw = 1.2
    else:
        lw = 2.4
    sns.lineplot(x=xs, y=ys, ax=ax, color=COLORS[i], linewidth=lw,
                 sort=False, estimator=None, errorbar=None)
    handles.append(ax.lines[-1])

sns.scatterplot(x=LAISSE_X, y=LAISSE_Y, ax=ax, s=320, color="#e63a2e",
                edgecolor="black", linewidth=3, zorder=5)
handles.append(ax.collections[-1])

labels = DATES + ["laisse Z (IGN69)"]
nrow = 27
order = [r * 3 + c for c in range(3) for r in range(nrow)]
leg = ax.legend([handles[k] for k in order], [labels[k] for k in order], ncol=3,
                loc="upper left", bbox_to_anchor=(0.0782, 0.9607), bbox_transform=fig.transFigure,
                frameon=False, fontsize=22, handlelength=2.3, handletextpad=0.18,
                columnspacing=3.9, labelspacing=0.103, borderpad=0, borderaxespad=0,
                markerscale=0.65)
for h, t in zip(leg.legend_handles, leg.get_texts()):
    if isinstance(h, Line2D):
        if t.get_text() == "07/01/2014":
            h.set_linewidth(8)
        elif t.get_text() == "25/03/2013":
            h.set_linewidth(1.5)
        else:
            h.set_linewidth(3.2)

ax.set_xlim(0, 180)
ax.set_ylim(-1, 8)
ax.xaxis.set_major_locator(MultipleLocator(10))
ax.xaxis.set_minor_locator(MultipleLocator(2))
ax.yaxis.set_major_locator(MultipleLocator(1))
ax.yaxis.set_minor_locator(MultipleLocator(0.2))
ax.tick_params(which="major", length=15, width=2, labelsize=30, color="black")
ax.tick_params(which="minor", length=12, width=2, color="black")
ax.tick_params(axis="x", pad=9)
ax.tick_params(axis="y", pad=11)
sns.despine(ax=ax)
for s in ["left", "bottom"]:
    ax.spines[s].set_linewidth(2.4)
    ax.spines[s].set_color("black")

ax.set_xlabel("distance (m)", fontsize=28, va="center")
ax.xaxis.set_label_coords(0.491, -0.0998)
ax.set_ylabel("hauteur (m)", fontsize=28, va="center", ha="center")
ax.yaxis.set_label_coords(-0.046, 0.472)

ax.text(0.929, 0.042, "Profil B", transform=ax.transAxes, fontsize=55,
        family=["Lato", "DejaVu Sans"], ha="center", va="center", color="#1e1e1e")

fig.savefig("out.png", dpi=100, facecolor="white")
